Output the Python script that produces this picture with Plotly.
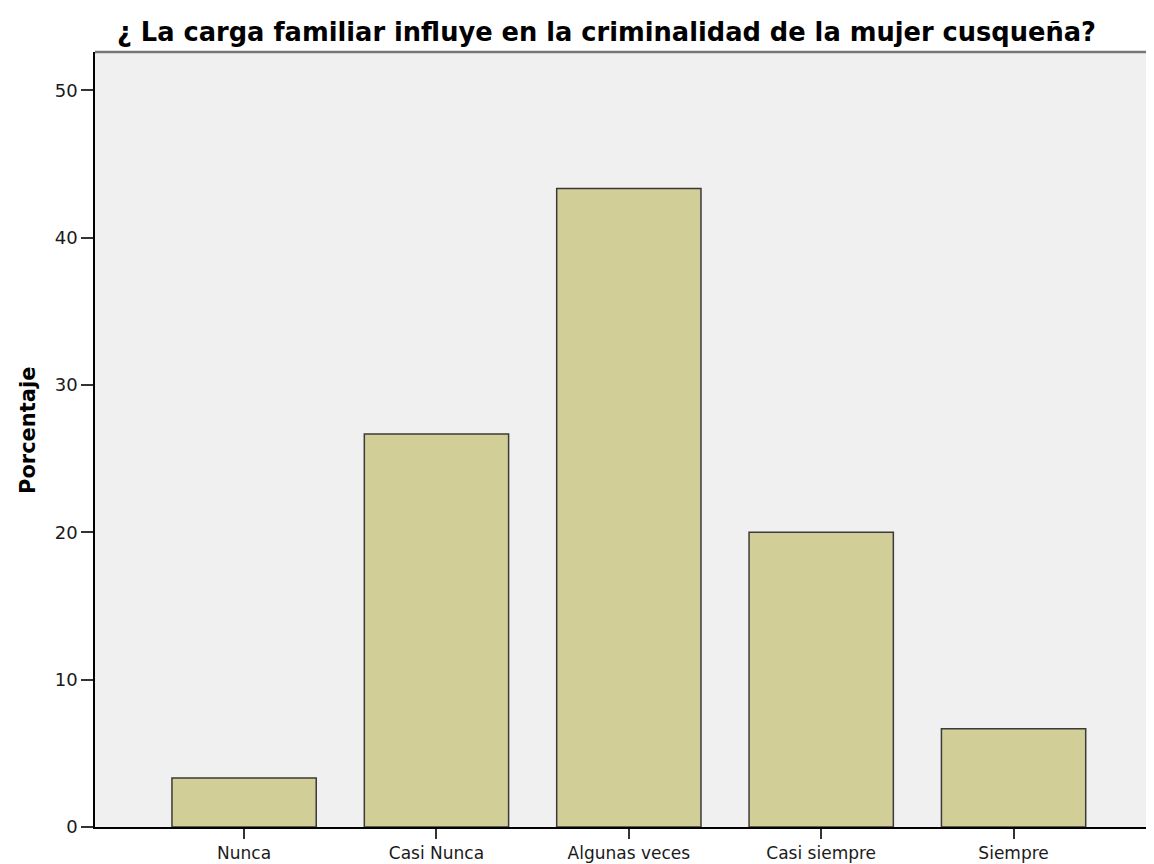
import plotly.graph_objects as go

categories = ["Nunca", "Casi Nunca", "Algunas veces", "Casi siempre", "Siempre"]
percentages = [3.33, 26.67, 43.33, 20.0, 6.67]
y_ticks = [0, 10, 20, 30, 40, 50]

W, H = 1146, 856          # page body has an 8px margin
L, R, T, B = 87, 0, 44, 37

fig = go.Figure(go.Bar(
    x=list(range(len(categories))),
    y=percentages,
    width=0.75,
    marker=dict(color="#D2CE98", line=dict(color="#3a3a3a", width=1.5)),
))

fig.update_layout(
    width=W, height=H,
    margin=dict(l=L, r=R, t=T, b=B, autoexpand=False),
    paper_bgcolor="white",
    plot_bgcolor="#F0F0F0",
    font=dict(family="DejaVu Sans, Arial, sans-serif", size=17, color="#1a1a1a"),
    title=dict(
        text="<b>¿ La carga familiar influye en la criminalidad de la mujer cusqueña?</b>",
        x=(117 - 8) / W, xanchor="left", xref="container",
        y=1 - (32.5 - 8) / H, yanchor="middle", yref="container",
        font=dict(family="DejaVu Sans, Arial, sans-serif", size=25.7, color="black"),
    ),
    showlegend=False,
)
fig.update_xaxes(
    range=[-0.775, 4.73],
    tickvals=list(range(len(categories))),
    ticktext=categories,
    showgrid=False, zeroline=False,
    showline=True, linecolor="black", linewidth=1.5,
    ticks="outside", ticklen=10, tickcolor="#333", tickwidth=1.5,
    tickfont=dict(size=17),
    automargin=False,
)
fig.update_yaxes(
    range=[0, 52.6],
    tickvals=y_ticks,
    showgrid=False, zeroline=False,
    showline=True, linecolor="black", linewidth=1.5,
    ticks="outside", ticklen=12, tickcolor="#333", tickwidth=1.5,
    tickfont=dict(size=18),
    automargin=False,
)
fig.add_annotation(
    text="<b>Porcentaje</b>", textangle=-90, showarrow=False,
    xref="paper", yref="paper",
    x=(28 - 8 - L) / (W - L - R), y=(H - B - (431 - 8)) / (H - T - B),
    xanchor="center", yanchor="middle",
    font=dict(family="DejaVu Sans, Arial, sans-serif", size=21, color="black"),
)
fig.add_shape(type="line", xref="paper", yref="paper", x0=0, x1=1, y0=1, y1=1,
              line=dict(color="#777777", width=2.5))

fig.write_html("out.html")
